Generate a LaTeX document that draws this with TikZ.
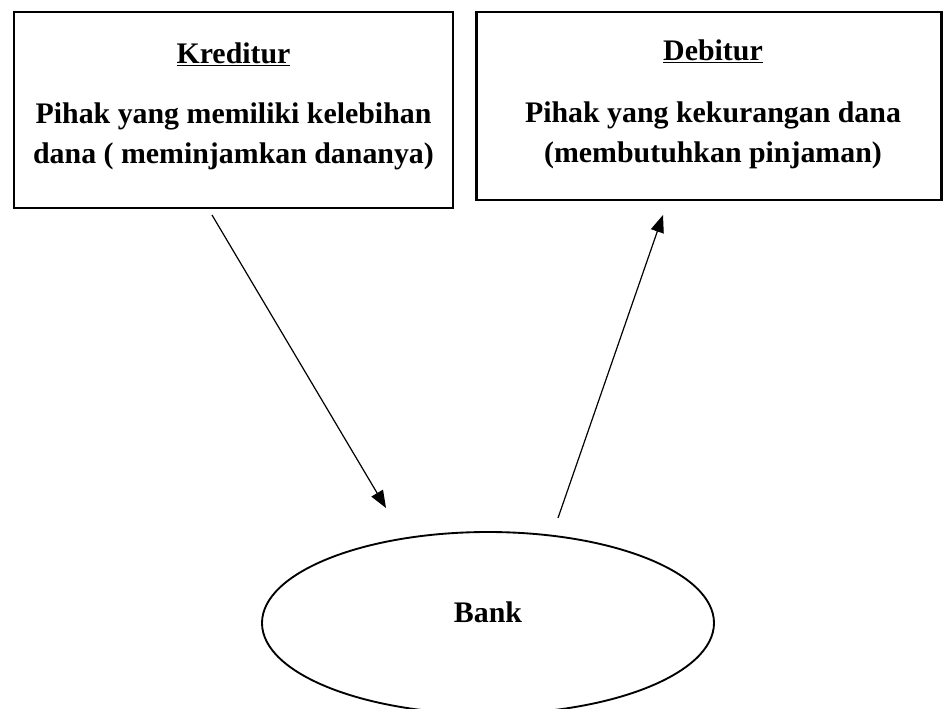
\documentclass[tikz,border=0pt]{standalone}
\usepackage{fontspec}
\setmainfont{Liberation Serif}
\usetikzlibrary{arrows.meta,shapes.geometric}
\begin{document}
\begin{tikzpicture}[x=0.75pt,y=-0.75pt,
  boxstyle/.style={draw,line width=1.6pt,rectangle,inner sep=0pt},
  txt/.style={font=\fontsize{22.4}{30}\selectfont\bfseries,align=center,inner sep=0pt,anchor=base},
  conn/.style={line width=0.9pt,-{Triangle[length=13pt,width=10pt]}}]
\useasboundingbox (0,0) rectangle (943,708);
\clip (0,0) rectangle (943,708);
\node[boxstyle,minimum width=439*0.75pt,minimum height=196*0.75pt] (kred) at (233.5,110) {};
\node[boxstyle,minimum width=465*0.75pt,minimum height=188*0.75pt] (debt) at (709,106) {};
\node[txt] (kredt) at (233.5,63) {\underline{Kreditur}};
\node[txt] (kredd1) at (233.5,123) {Pihak yang memiliki kelebihan};
\node[txt] (kredd2) at (233.5,163) {dana ( meminjamkan dananya)};
\node[txt] (debtt) at (713,60) {\underline{Debitur}};
\node[txt] (debtd1) at (713,122) {Pihak yang kekurangan dana};
\node[txt] (debtd2) at (713,162) {(membutuhkan pinjaman)};
\node[draw,ellipse,line width=1.4pt,minimum width=452*0.75pt,minimum height=182*0.75pt,inner sep=0pt] (bank) at (488,623) {};
\node[txt] (bankt) at (488,622) {Bank};
\coordinate (a1s) at (212,215);
\coordinate (a1e) at (386,508);
\coordinate (a2s) at (558,518);
\coordinate (a2e) at (663,215);
\draw[conn] (a1s) -- (a1e);
\draw[conn] (a2s) -- (a2e);
\end{tikzpicture}
\end{document}
